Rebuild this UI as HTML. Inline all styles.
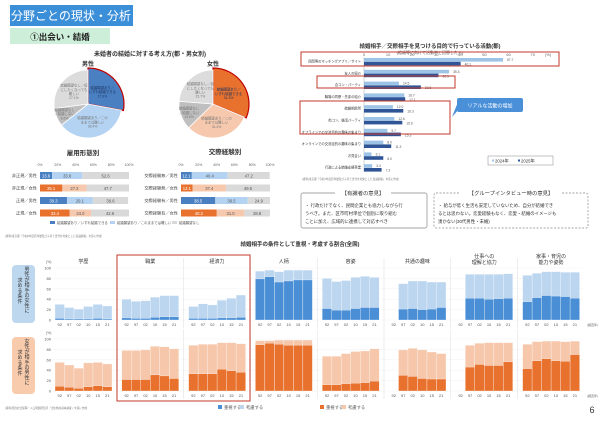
<!DOCTYPE html>
<html><head><meta charset="utf-8">
<style>
html,body{margin:0;padding:0;background:#fff;}
body{width:600px;height:429px;overflow:hidden;font-family:"Liberation Sans","Noto Sans CJK JP",sans-serif;}
svg text{font-family:"Liberation Sans","Noto Sans CJK JP",sans-serif;}
</style></head>
<body>
<svg id="s" width="600" height="429" viewBox="0 0 600 429" xmlns="http://www.w3.org/2000/svg">
<rect x="10" y="5" width="123" height="21" fill="#3b8fd9"/>
<text x="71" y="20" font-size="12" fill="#fff" text-anchor="middle">分野ごとの現状・分析</text>
<rect x="10" y="28" width="100" height="16" fill="#cdeed8"/>
<text x="60" y="40" font-size="8.5" font-weight="bold" fill="#222" text-anchor="middle">①出会い・結婚</text>
<text x="150" y="56" font-size="6" font-weight="bold" fill="#333" text-anchor="middle">未婚者の結婚に対する考え方(都・男女別)</text>
<text x="88" y="66" font-size="6" font-weight="bold" fill="#333" text-anchor="middle">男性</text>
<text x="213" y="66" font-size="6" font-weight="bold" fill="#333" text-anchor="middle">女性</text>
<text x="83" y="155" font-size="6.5" font-weight="bold" fill="#333" text-anchor="middle">雇用形態別</text>
<text x="225" y="154" font-size="6.5" font-weight="bold" fill="#333" text-anchor="middle">交際経験別</text>
<text x="430" y="48" font-size="5.5" font-weight="bold" fill="#333" text-anchor="middle">結婚相手／交際相手を見つける目的で行っている活動(都)</text>
<text x="300" y="246" font-size="5.5" font-weight="bold" fill="#333" text-anchor="middle">結婚相手の条件として重視・考慮する割合(全国)</text>
<text x="592" y="413" font-size="9" fill="#333" text-anchor="middle">6</text>
<g id="g"></g>
</svg>
<script>
// ---------- data ----------
const pieLabels=["結婚願望あり／|いずれ結婚できる","結婚願望あり／この|ままでは難しい","結婚願望なし|／結婚しない","結婚願望なし／仮|にしたくなっても|難しい"];
const pieMenValues=[27.9,36.4,8.6,27.1];
const pieWomenValues=[31.3,31.4,13.6,23.7];
const empCategories=["非正規／男性","非正規／女性","正規／男性","正規／女性"];
const empHopeful=[13.6,25.1,30.3,33.4];
const empHard=[33.8,27.2,29.1,24.0];
const empNone=[52.6,47.7,39.6,42.6];
const datCategories=["交際経験無／男性","交際経験無／女性","交際経験有／男性","交際経験有／女性"];
const datHopeful=[12.1,13.1,38.5,40.2];
const datHard=[40.4,37.4,36.5,31.0];
const datNone=[47.2,49.5,24.9,28.8];
const pctTicks=["0%","20%","40%","60%","80%","100%"];
const actCategories=["民間等のマッチングアプリ／サイト","友人の紹介","合コン・パーティ","職場の同僚・先輩の紹介","結婚相談所","街コン、婚活パーティ","オフラインでの交流目的の趣味の集まり","オンラインでの交流目的の趣味の集まり","お見合い","行政による結婚支援事業"];
const act2024=[57.7,35.3,14.5,16.7,12.0,12.6,9.7,8.0,3.1,3.4];
const act2025=[40.1,30.9,23.6,17.1,16.3,15.9,15.3,11.3,8.0,7.3];
const actTicks=[0,10,20,30,40,50,60,70];
const condCategories=["学歴","職業","経済力","人柄","容姿","共通の趣味","仕事への|理解と協力","家事・育児の|能力や姿勢"];
const years=["92","97","02","10","15","21"];
const yTicks=[0,20,40,60,80,100];
const menImportant=[[3,2,2,2,3,2],[4,3,3,5,6,6],[3,3,3,4,4,5],[79,83,73,75,77,77],[22,19,19,22,24,24],[null,21,22,20,21,24],[null,42,42,40,41,42],[35,43,47,46,45,42]];
const menTotal=[[30,24,21,26,30,27],[40,36,37,44,47,47],[26,31,29,38,42,48],[94,96,93,96,96,96],[80,74,76,82,84,82],[null,70,75,75,73,73],[null,88,88,88,88,89],[86,90,93,93,92,92]];
const womenImportant=[[9,7,5,8,10,8],[22,22,22,31,29,24],[33,33,33,42,39,36],[89,92,90,88,88,88],[12,12,14,15,16,19],[null,30,28,24,23,23],[null,46,51,49,49,56],[43,58,62,58,57,70]];
const womenTotal=[[55,50,44,54,55,52],[78,78,79,86,85,81],[88,90,90,93,93,91],[97,97,98,98,98,98],[67,67,72,76,77,81],[null,79,82,79,75,72],[null,88,92,93,93,93],[90,95,96,96,95,96]];

// ---------- helpers ----------
const NS="http://www.w3.org/2000/svg";const G=document.getElementById('g');
function mk(t,a,p){const e=document.createElementNS(NS,t);for(const k in a)e.setAttribute(k,a[k]);(p||G).appendChild(e);return e;}
function tx(x,y,s,size,fill,anchor,p){const e=mk('text',{x:x,y:y,'font-size':size,fill:fill||'#444','text-anchor':anchor||'start'},p);e.textContent=s;return e;}

// ---------- pies ----------
function pie(cx,cy,r,vals,cols,name){
  let a=-Math.PI/2;const tot=vals.reduce((s,v)=>s+v,0);
  const mids=[];
  vals.forEach((v,i)=>{const b=a+v/tot*2*Math.PI;const large=(b-a)>Math.PI?1:0;
    const rr=i===0?r+2:r;
    const p=mk('path',{d:`M${cx},${cy} L${cx+rr*Math.cos(a)},${cy+rr*Math.sin(a)} A${rr},${rr} 0 ${large} 1 ${cx+rr*Math.cos(b)},${cy+rr*Math.sin(b)} Z`,fill:cols[i],stroke:i===0?'#c00000':'#fff','stroke-width':i===0?1.2:0.8});
    
    
    mids.push([(a+b)/2,v]);a=b;});
  mids.forEach((m,i)=>{const rf=i===2?0.75:0.55;const lx=cx+r*rf*Math.cos(m[0]),ly=cy+r*rf*Math.sin(m[0]);
    const lines=pieLabels[i].split('|').concat([m[1].toFixed(1)+'%']);
    lines.forEach((s,k)=>{const t=tx(lx,ly+(k-(lines.length-1)/2)*4.2+1.2,s,3.4,i===0?'#1f3864':'#777','middle');
      
      });});
}
pie(88,104,34,pieMenValues,['#4a7fc1','#b4d3f2','#bfbfbf','#dcdcdc'],'pie-men');
pie(213,104,34,pieWomenValues,['#e8712d','#f6c9ae','#bfbfbf','#dcdcdc'],'pie-women');

// ---------- stacked 100% bars ----------
function stack(x0,w,cats,a,b,c,name){
  pctTicks.forEach((t,i)=>{const l=tx(x0+w*i/5,166,t,3.5,'#666','middle');});
  cats.forEach((cat,i)=>{const y=172+i*12.5;
    const l=tx(x0-3,y+5,cat,4.2,'#444','end');
    const fem=i%2===1;const cols=[fem?'#e8712d':'#4a7fc1',fem?'#f6c9ae':'#b4d3f2','#d9d9d9'];
    let xx=x0;[a[i],b[i],c[i]].forEach((v,j)=>{const ww=v/100*w;
      const r=mk('rect',{x:xx,y:y,width:ww,height:7,fill:cols[j]});
      
      
      const t=tx(xx+ww/2,y+5.3,v.toFixed(1),4.2,j===0?'#fff':'#555','middle');
      xx+=ww;});
  });
}
stack(40,89,empCategories,empHopeful,empHard,empNone,'employment');
stack(181,89,datCategories,datHopeful,datHard,datNone,'dating');
[['#4a7fc1','結婚願望あり／いずれ結婚できる',50],['#b4d3f2','結婚願望あり／このままでは難しい',110],['#d9d9d9','結婚願望なし',172]].forEach(l=>{const r=mk('rect',{x:l[2],y:221,width:5,height:3,fill:l[0]});const t=tx(l[2]+7,224,l[1],3.4,'#555');});
tx(5,237,'(資料)東京都「令和6年度若年層及び子育て世代を対象とした意識調査」を基に作成',2.6,'#777');

// ---------- activity bar chart ----------
const ax0=364,aunit=2.41;
tx(430,54,'(結婚等に向けて活動中と回答した人)',4,'#555','middle');
actTicks.forEach(t=>{const x=ax0+t*aunit;const l=tx(x,56,String(t),4,'#666','middle');});
tx(548,56,'(%)',4,'#666','middle');
mk('line',{x1:ax0,y1:57,x2:ax0,y2:172,stroke:'#aaa','stroke-width':0.5});
actCategories.forEach((c,i)=>{const y=58+i*11.8;
  const l=tx(ax0-3,y+4.5,c,3.3,'#333','end');
  const r1=mk('rect',{x:ax0,y:y,width:act2024[i]*aunit,height:3.6,fill:'#9dc3e6'});
  
  
  const r2=mk('rect',{x:ax0,y:y+3.8,width:act2025[i]*aunit,height:3.6,fill:'#2f5597'});
  
  
  tx(ax0+act2024[i]*aunit+4,y+3,act2024[i].toFixed(1),3.3,'#555');
  tx(ax0+act2025[i]*aunit+4,y+7.5,act2025[i].toFixed(1),3.3,'#555');
});
[[301,52,258,14],[317,76,138,12],[300,101,150,33]].forEach(b=>{const r=mk('rect',{x:b[0],y:b[1],width:b[2],height:b[3],fill:'none',stroke:'#c0392b','stroke-width':1});});
mk('polygon',{points:'458,102 452,117 460,108',fill:'#4a90d9'});
const cb=mk('rect',{x:457,y:98,width:66,height:14,rx:2,fill:'#4a90d9'});
tx(490,107.5,'リアルな活動の増加',5,'#fff','middle');
const lb=mk('rect',{x:488,y:156,width:65,height:9,fill:'#fff',stroke:'#888','stroke-width':0.5});
mk('rect',{x:492,y:159.5,width:2,height:2,fill:'#9dc3e6'});tx(495,162.5,'2024年',4.3,'#333');
mk('rect',{x:518,y:159.5,width:2,height:2,fill:'#2f5597'});tx(521,162.5,'2025年',4.3,'#333');
tx(302,180,'(資料)東京都「令和7年度若年層及び子育て世代を対象とした意識調査」を基に作成',2.6,'#777');
const ob1=mk('rect',{x:301,y:193,width:126,height:35,rx:2,fill:'#fff',stroke:'#888','stroke-width':0.7});
mk('rect',{x:335,y:189,width:56,height:8,fill:'#fff'});
tx(363,195,'【有識者の意見】',5.3,'#333','middle');
tx(305,207,'・ 行政だけでなく、民間企業とも協力しながら行',4.4,'#333');
tx(305,215,'うべき。また、区市町村単位で個別に取り組む',4.4,'#333');
tx(305,223,'ことに加え、広域的に連携して対応すべき',4.4,'#333');
const ob2=mk('rect',{x:434,y:193,width:154,height:35,rx:2,fill:'#fff',stroke:'#888','stroke-width':0.7,'stroke-dasharray':'2,1.5'});
mk('rect',{x:460,y:189,width:102,height:8,fill:'#fff'});
tx(511,195,'【グループインタビュー時の意見】',5.3,'#333','middle');
tx(438,207,'・ 給与が低く生活も安定していないため、自分が結婚でき',4.4,'#333');
tx(438,215,'るとは思わない。恋愛経験もなく、恋愛・結婚のイメージも',4.4,'#333');
tx(438,223,'湧かない(30代男性・未婚)',4.4,'#333');

// ---------- conditions small multiples ----------
const bb=mk('rect',{x:12,y:265,width:23,height:58,rx:4,fill:'#bdd7ee'});
const ob=mk('rect',{x:12,y:337,width:23,height:57,rx:4,fill:'#f8cbad'});
function vtext(x,y,s){s.split('').forEach((ch,i)=>tx(x,y+i*5.2,ch,5,'#333','middle'));}
vtext(27,271,'男性が相手の女性に');vtext(20,282,'求める条件');
vtext(27,343,'女性が相手の男性に');vtext(20,354,'求める条件');
function row(y100,y0,imp,tot,dark,light,name,xlabY){
  const sc=v=>y0-(y0-y100)*v/100;
  tx(46,y100-5,'(%)',3.5,'#666');
  yTicks.forEach(t=>{const l=tx(51,sc(t)+1.5,String(t),4,'#555','end');
    mk('line',{x1:53,y1:sc(t),x2:583,y2:sc(t),stroke:'#eee','stroke-width':0.4});});
  condCategories.forEach((c,p)=>{const L=50+p*66.8;
    if(p>0)mk('line',{x1:L,y1:y100-10,x2:L,y2:xlabY+2,stroke:'#ddd','stroke-width':0.5});
    years.forEach((yr,i)=>{const bx=L+5+i*9.5;
      const lab=tx(bx+4.75,xlabY,yr,4,'#555','middle');
      const T=tot[p][i],I=imp[p][i];if(T==null)return;
      const r1=mk('rect',{x:bx,y:sc(T),width:9.5,height:sc(0)-sc(T),fill:light,stroke:'#fff','stroke-width':0.3});
      
      
      const r2=mk('rect',{x:bx,y:sc(I),width:9.5,height:sc(0)-sc(I),fill:dark,stroke:'#fff','stroke-width':0.3});
      
      
    });});
  tx(587,xlabY,'(調査年)',3,'#666');
}
condCategories.forEach((c,p)=>{const L=50+p*66.8+33.4;const parts=c.split('|');
  parts.forEach((s,k)=>{const t=tx(L,(parts.length>1?258:263)+k*6,s,5,'#333','middle');});});
row(268,320,menImportant,menTotal,'#4a8fd6','#bcd6f0','men',326);
row(339,391,womenImportant,womenTotal,'#e8712d','#f6c7aa','women',397);
const rb=mk('rect',{x:117,y:255,width:133,height:146,fill:'none',stroke:'#c0392b','stroke-width':1});
[['#4a8fd6','重視する',218],['#bcd6f0','考慮する',240],['#e8712d','重視する',320],['#f6c7aa','考慮する',342]].forEach(l=>{const r=mk('rect',{x:l[2],y:405,width:4,height:4,fill:l[0]});const t=tx(l[2]+6,409,l[1],4.3,'#555');});
tx(5,409,'(資料)国立社会保障・人口問題研究所「出生動向基本調査」を基に作成',2.6,'#777');
</script>
</body></html>
